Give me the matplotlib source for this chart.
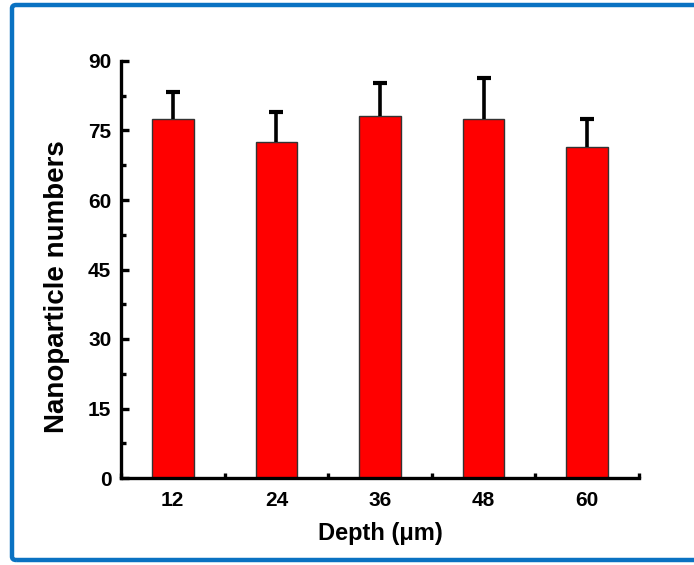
import matplotlib
matplotlib.use("Agg")
import matplotlib.pyplot as plt
from matplotlib.patches import FancyBboxPatch
from matplotlib.ticker import MultipleLocator

depth = [12, 24, 36, 48, 60]
counts = [77.5, 72.6, 78.2, 77.4, 71.4]
errors = [5.9, 6.5, 7.1, 8.9, 6.0]

plt.rcParams["font.family"] = ["Liberation Sans", "DejaVu Sans"]
plt.rcParams["font.weight"] = "bold"

fig = plt.figure(figsize=(6.94, 5.65), dpi=100)

# blue frame around the panel
frame = FancyBboxPatch((12 / 694, 5 / 565), 700 / 694, 555 / 565,
                       boxstyle="round,pad=0,rounding_size=0.006",
                       transform=fig.transFigure, fill=False,
                       edgecolor="#0A72C2", linewidth=3.2, clip_on=False)
fig.patches.append(frame)

ax = fig.add_axes([121 / 694, 87 / 565, 518 / 694, 417 / 565])
ax.bar(depth, counts, width=4.8, color="#FF0000", edgecolor="#333333",
       linewidth=1.0, zorder=2)
_, caps, _ = ax.errorbar(depth, counts, yerr=[[0] * len(errors), errors],
                         fmt="none", ecolor="black", elinewidth=2.6,
                         capsize=5, capthick=3, zorder=3)
# upper error only: hide the caps sitting on the bar tops
caps[0].set_visible(False)

ax.set_xlim(6, 66)
ax.set_ylim(0, 90)
ax.set_xticks(depth)
ax.xaxis.set_minor_locator(MultipleLocator(6))
ax.yaxis.set_major_locator(MultipleLocator(15))
ax.yaxis.set_minor_locator(MultipleLocator(7.5))

for s in ("top", "right"):
    ax.spines[s].set_visible(False)
for s in ("left", "bottom"):
    ax.spines[s].set_linewidth(2.4)

ax.tick_params(which="major", direction="in", length=6, width=2.4,
               labelsize=15, pad=7)
ax.tick_params(axis="x", which="major", pad=9)
ax.tick_params(which="minor", direction="in", length=3.5, width=2.4)
for lab in ax.get_xticklabels() + ax.get_yticklabels():
    lab.set_fontweight("bold")

ax.set_xlabel("Depth (\u03bcm)", fontsize=17, fontweight="bold", labelpad=9)
ax.set_ylabel("Nanoparticle numbers", fontsize=20, fontweight="bold")
ax.yaxis.set_label_coords(-0.098, 0.46)

fig.savefig("out.png", dpi=100)
